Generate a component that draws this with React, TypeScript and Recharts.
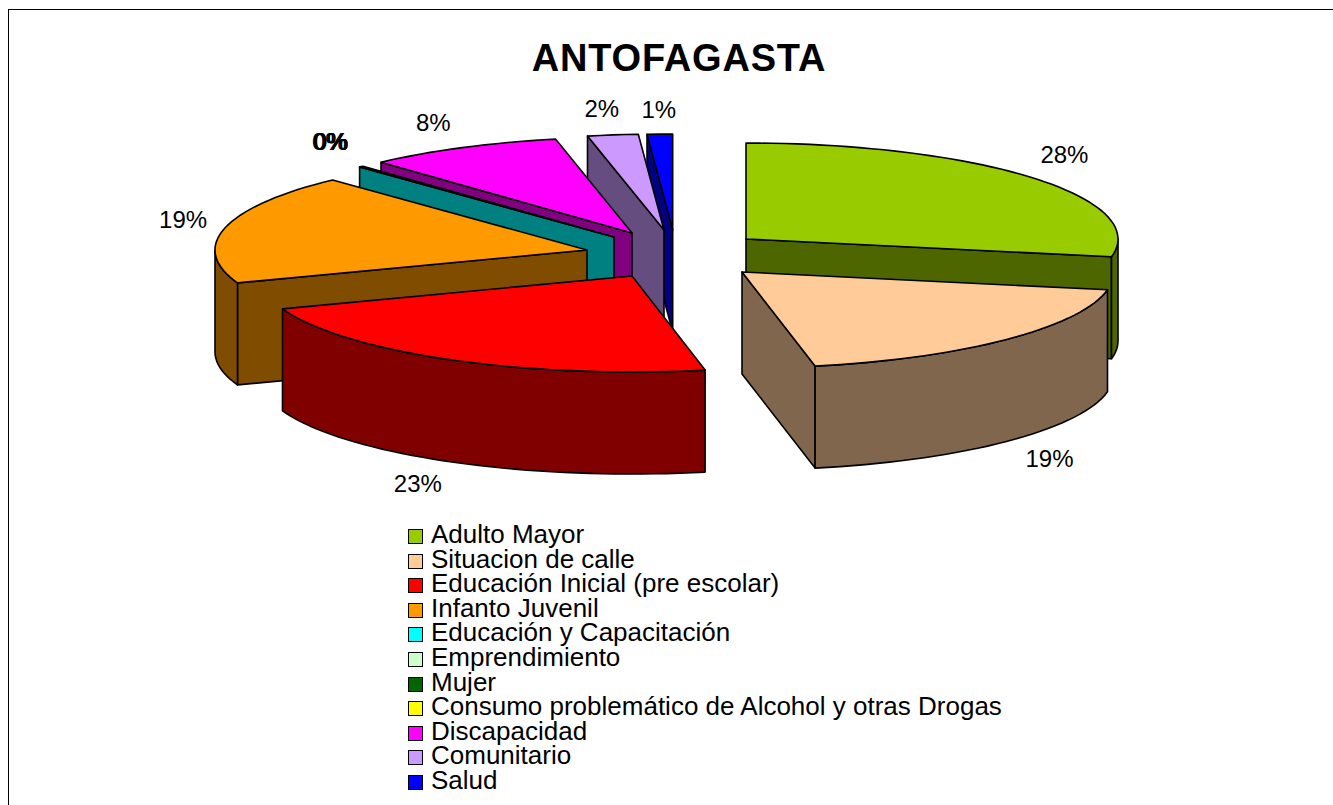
import React from 'react';
import { PieChart, Pie, Legend } from 'recharts';

const categories = [
  'Adulto Mayor',
  'Situacion de calle',
  'Educación Inicial (pre escolar)',
  'Infanto Juvenil',
  'Educación y Capacitación',
  'Emprendimiento',
  'Mujer',
  'Consumo problemático de Alcohol y otras Drogas',
  'Discapacidad',
  'Comunitario',
  'Salud',
];
const values = [28, 18.9, 22.6, 18.6, 0.2, 0, 0, 0, 8.5, 2.2, 1.1];

const topColors = ['#99CC00', '#FFCC99', '#FF0000', '#FF9900', '#00FFFF', '#CCFFCC', '#006600', '#FFFF00', '#FF00FF', '#CC99FF', '#0000FF'];
const wallColors = ['#4D6600', '#80664D', '#800000', '#804D00', '#008080', '#668066', '#003300', '#808000', '#800080', '#664D80', '#000080'];

// painter's order, back slices first
const drawOrder = [10, 9, 8, 7, 6, 5, 4, 3, 0, 1, 2];

// how far each slice is pulled out of the pie
const explodeX = [74, 70, -40, -85, -58, -58, -58, -58, -40, -8, 0.7];
const explodeY = [-16, 17, 21, -5, -18, -18, -18, -18, -22, -25, -25];
// label nudge from the middle of the outer arc
const labelX = [32, 43, -32, -42, -32, -32, -32, -32, -29, -11, -1];
const labelY = [-23, 119, 124, -8, -25, -25, -25, -25, -25, -26, -25];

const CX = 672;
const CY = 255;
const RADIUS = 372;
const SQUASH = 0.258; // tilt of the 3D pie
const DEPTH = 102;
const FONT = '"Liberation Sans", Arial, sans-serif';

const tableData = categories.map((name, i) => ({ name, value: values[i] }));

const rad = (a: number) => (a * Math.PI) / 180;

const pt = (ox: number, oy: number, r: number, a: number): [number, number] => [
  ox + r * Math.cos(rad(a)),
  oy - r * SQUASH * Math.sin(rad(a)),
];

const toPath = (pts: [number, number][]) =>
  'M' + pts.map((p) => `${p[0].toFixed(1)},${p[1].toFixed(1)}`).join('L') + 'Z';

const arc = (ox: number, oy: number, r: number, from: number, to: number) => {
  const steps = Math.max(2, Math.ceil(Math.abs(from - to) / 2));
  const out: [number, number][] = [];
  for (let s = 0; s <= steps; s++) out.push(pt(ox, oy, r, from + ((to - from) * s) / steps));
  return out;
};

const Wedge = (props: any) => {
  const { cx, cy, outerRadius, startAngle, endAngle, index } = props;
  if (Math.abs(startAngle - endAngle) < 0.01) return <g />;
  const ox = cx + explodeX[index];
  const oy = cy + explodeY[index];
  const line = { stroke: '#000', strokeWidth: 1.6, strokeLinejoin: 'round' as const };
  const wall = wallColors[index];

  const face = (a: number) => {
    const p = pt(ox, oy, outerRadius, a);
    return toPath([[ox, oy], p, [p[0], p[1] + DEPTH], [ox, oy + DEPTH]]);
  };

  const lo = Math.max(endAngle, -180);
  const hi = Math.min(startAngle, 0);
  let rim = null;
  if (hi > lo) {
    const upper = arc(ox, oy, outerRadius, hi, lo);
    const lower = upper.map((p) => [p[0], p[1] + DEPTH] as [number, number]).reverse();
    rim = <path d={toPath([...upper, ...lower])} fill={wall} {...line} />;
  }

  return (
    <g>
      {Math.cos(rad(startAngle)) < 0 && <path d={face(startAngle)} fill={wall} {...line} />}
      {Math.cos(rad(endAngle)) > 0 && <path d={face(endAngle)} fill={wall} {...line} />}
      {rim}
      <path
        d={toPath([[ox, oy], ...arc(ox, oy, outerRadius, startAngle, endAngle)])}
        fill={topColors[index]}
        {...line}
      />
    </g>
  );
};

const SliceLabel = (props: any) => {
  const { cx, cy, outerRadius, midAngle, index, percent } = props;
  const p = pt(cx + explodeX[index], cy + explodeY[index], outerRadius, midAngle);
  return (
    <text
      x={p[0] + labelX[index]}
      y={p[1] + labelY[index]}
      textAnchor="middle"
      dominantBaseline="central"
      fontFamily={FONT}
      fontSize={24}
      fill="#000"
    >
      {`${Math.round(percent * 100)}%`}
    </text>
  );
};

const LegendList = () => (
  <div style={{ fontFamily: FONT, fontSize: 26, color: '#000' }}>
    {categories.map((name, i) => (
      <div key={name} style={{ height: 24.6, lineHeight: '24.6px', whiteSpace: 'nowrap', position: 'relative', paddingLeft: 23 }}>
        <span
          style={{
            position: 'absolute',
            left: 0,
            top: 7,
            width: 13,
            height: 13,
            background: topColors[i],
            border: '1.5px solid #000',
          }}
        />
        {name}
      </div>
    ))}
  </div>
);

const App = () => (
  <div style={{ position: 'absolute', left: 0, top: 0, width: 1333, height: 805, overflow: 'hidden', background: '#fff' }}>
    <div style={{ position: 'absolute', left: 8, top: 9, width: 1400, height: 900, borderLeft: '1.5px solid #000', borderTop: '1.5px solid #000' }} />
    <div style={{ position: 'absolute', left: 0, top: 0 }}>
      <PieChart width={1333} height={805} margin={{ top: 0, right: 0, bottom: 0, left: 0 }}>
        <text x={679} y={58} textAnchor="middle" dominantBaseline="central" fontFamily={FONT} fontWeight="bold" fontSize={38} letterSpacing={0.8} fill="#000">
          ANTOFAGASTA
        </text>
        {drawOrder.map((slice) => (
          <Pie
            key={slice}
            data={tableData}
            dataKey="value"
            nameKey="name"
            cx={CX}
            cy={CY}
            outerRadius={RADIUS}
            startAngle={90}
            endAngle={-270}
            paddingAngle={0}
            isAnimationActive={false}
            label={false}
            labelLine={false}
            shape={(p: any) => (p.index === slice ? <Wedge {...p} /> : <g />)}
          />
        ))}
        <Pie
          data={tableData}
          dataKey="value"
          nameKey="name"
          cx={CX}
          cy={CY}
          outerRadius={RADIUS}
          startAngle={90}
          endAngle={-270}
          isAnimationActive={false}
          labelLine={false}
          label={SliceLabel}
          shape={() => <g />}
        />
        <Legend
          content={LegendList}
          layout="vertical"
          wrapperStyle={{ position: 'absolute', left: 408, top: 522, width: 700, bottom: 'auto' }}
        />
      </PieChart>
    </div>
  </div>
);

export default App;
